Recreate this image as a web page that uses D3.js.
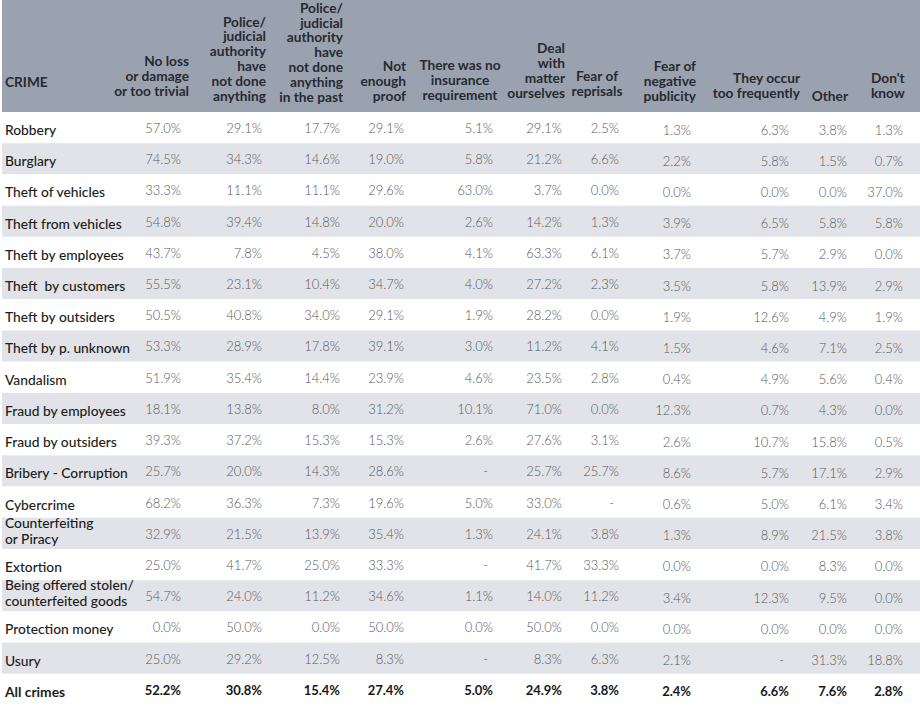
<!DOCTYPE html>
<html>
<head>
<meta charset="utf-8">
<script src="https://cdn.jsdelivr.net/npm/d3@7/dist/d3.min.js"></script>
<style>
  html, body { margin: 0; padding: 0; background: #ffffff; }
  svg { display: block; }
</style>
</head>
<body>
<svg id="chart" width="920" height="722"></svg>
<script>
// ---------------- DATA ----------------
const crimes = [
  ["Robbery"], ["Burglary"], ["Theft of vehicles"], ["Theft from vehicles"],
  ["Theft by employees"], ["Theft  by customers"], ["Theft by outsiders"],
  ["Theft by p. unknown"], ["Vandalism"], ["Fraud by employees"],
  ["Fraud by outsiders"], ["Bribery - Corruption"], ["Cybercrime"],
  ["Counterfeiting", "or Piracy"], ["Extortion"],
  ["Being offered stolen/", "counterfeited goods"], ["Protection money"],
  ["Usury"], ["All crimes"]
];

const headers = [
  ["No loss", "or damage", "or too trivial"],
  ["Police/", "judicial", "authority", "have", "not done", "anything"],
  ["Police/", "judicial", "authority", "have", "not done", "anything", "in the past"],
  ["Not", "enough", "proof"],
  ["There was no", "insurance", "requirement"],
  ["Deal", "with", "matter", "ourselves"],
  ["Fear of", "reprisals"],
  ["Fear of", "negative", "publicity"],
  ["They occur", "too frequently"],
  ["Other"],
  ["Don't", "know"]
];

// null = "-"
const values = [
  [57.0, 29.1, 17.7, 29.1, 5.1, 29.1, 2.5, 1.3, 6.3, 3.8, 1.3],
  [74.5, 34.3, 14.6, 19.0, 5.8, 21.2, 6.6, 2.2, 5.8, 1.5, 0.7],
  [33.3, 11.1, 11.1, 29.6, 63.0, 3.7, 0.0, 0.0, 0.0, 0.0, 37.0],
  [54.8, 39.4, 14.8, 20.0, 2.6, 14.2, 1.3, 3.9, 6.5, 5.8, 5.8],
  [43.7, 7.8, 4.5, 38.0, 4.1, 63.3, 6.1, 3.7, 5.7, 2.9, 0.0],
  [55.5, 23.1, 10.4, 34.7, 4.0, 27.2, 2.3, 3.5, 5.8, 13.9, 2.9],
  [50.5, 40.8, 34.0, 29.1, 1.9, 28.2, 0.0, 1.9, 12.6, 4.9, 1.9],
  [53.3, 28.9, 17.8, 39.1, 3.0, 11.2, 4.1, 1.5, 4.6, 7.1, 2.5],
  [51.9, 35.4, 14.4, 23.9, 4.6, 23.5, 2.8, 0.4, 4.9, 5.6, 0.4],
  [18.1, 13.8, 8.0, 31.2, 10.1, 71.0, 0.0, 12.3, 0.7, 4.3, 0.0],
  [39.3, 37.2, 15.3, 15.3, 2.6, 27.6, 3.1, 2.6, 10.7, 15.8, 0.5],
  [25.7, 20.0, 14.3, 28.6, null, 25.7, 25.7, 8.6, 5.7, 17.1, 2.9],
  [68.2, 36.3, 7.3, 19.6, 5.0, 33.0, null, 0.6, 5.0, 6.1, 3.4],
  [32.9, 21.5, 13.9, 35.4, 1.3, 24.1, 3.8, 1.3, 8.9, 21.5, 3.8],
  [25.0, 41.7, 25.0, 33.3, null, 41.7, 33.3, 0.0, 0.0, 8.3, 0.0],
  [54.7, 24.0, 11.2, 34.6, 1.1, 14.0, 11.2, 3.4, 12.3, 9.5, 0.0],
  [0.0, 50.0, 0.0, 50.0, 0.0, 50.0, 0.0, 0.0, 0.0, 0.0, 0.0],
  [25.0, 29.2, 12.5, 8.3, null, 8.3, 6.3, 2.1, null, 31.3, 18.8],
  [52.2, 30.8, 15.4, 27.4, 5.0, 24.9, 3.8, 2.4, 6.6, 7.6, 2.8]
];

const crimeHeader = "CRIME";

// ---------------- LAYOUT ----------------
const W = 920, H = 722;
const headerTop = 0, headerBottom = 112;
const tableBottom = 705;
const colIdx = d3.range(headers.length);

// right edge of the numbers in each column
const numX = d3.scaleOrdinal().domain(colIdx)
  .range([181, 262, 340, 404, 493, 562, 619, 691, 789, 847, 903]);
// header anchors
const headX = d3.scaleOrdinal().domain(colIdx)
  .range([189, 266, 343, 406, 460, 565, 597, 696, 800, 848, 871]);
const headAnchor = ["end", "end", "end", "end", "middle", "end", "middle", "end", "end", "end", "start"];
const headLastBaseline = [96, 101, 102, 101, 100, 98, 96, 101, 98, 101, 98];
const headLineH = 14.9;

const y = d3.scaleBand().domain(d3.range(crimes.length))
  .range([headerBottom, tableBottom]).paddingInner(0).paddingOuter(0);

const FONT = "Lato, 'Open Sans', sans-serif";

const svg = d3.select("#chart");

// header background
svg.append("rect")
  .attr("x", 2).attr("y", headerTop)
  .attr("width", W - 2).attr("height", headerBottom - headerTop)
  .attr("fill", "#9ba2af");

// row stripes
svg.append("g").selectAll("rect")
  .data(crimes)
  .join("rect")
  .attr("x", 2)
  .attr("y", (d, i) => y(i))
  .attr("width", W - 2)
  .attr("height", y.bandwidth())
  .attr("fill", (d, i) => i % 2 === 1 ? "#e2e3e8" : "#ffffff");

// header texts
const hg = svg.append("g")
  .attr("font-family", FONT)
  .attr("font-size", 13.7)
  .attr("font-weight", 700)
  .attr("fill", "#262a30");

hg.append("text")
  .attr("x", 5).attr("y", 87)
  .text(crimeHeader);

headers.forEach((lines, c) => {
  const n = lines.length;
  const t = hg.append("text")
    .attr("text-anchor", headAnchor[c]);
  lines.forEach((ln, k) => {
    t.append("tspan")
      .attr("x", headX(c))
      .attr("y", headLastBaseline[c] - (n - 1 - k) * headLineH)
      .text(ln);
  });
});

// row labels
const lastRow = crimes.length - 1;
const lg = svg.append("g")
  .attr("font-family", FONT)
  .attr("font-size", 13.8)
  .attr("fill", "#1b1d20");

crimes.forEach((lines, i) => {
  const t = lg.append("text")
    .attr("x", 5)
    .attr("font-weight", i === lastRow ? 700 : 500);
  const top = y(i);
  if (lines.length === 1) {
    t.append("tspan").attr("x", 5).attr("y", top + 23).style("white-space", "pre").text(lines[0]);
  } else {
    lines.forEach((ln, k) => {
      t.append("tspan").attr("x", 5).attr("y", top + 10 + k * 16).text(ln);
    });
  }
});

// values
const fmt = d3.format(".1f");
const vg = svg.append("g")
  .attr("font-family", FONT)
  .attr("font-size", 13);

values.forEach((row, i) => {
  vg.append("g")
    .selectAll("text")
    .data(row)
    .join("text")
    .attr("text-anchor", "end")
    .attr("x", (d, c) => d === null ? numX(c) - 5 : numX(c))
    .attr("y", (d, c) => y(i) + (c >= 7 ? 22.5 : 21))
    .attr("font-weight", i === lastRow ? 700 : 300)
    .attr("fill", i === lastRow ? "#15171a" : "#555a60")
    .text(d => d === null ? "-" : fmt(d) + "%");
});
</script>
</body>
</html>
